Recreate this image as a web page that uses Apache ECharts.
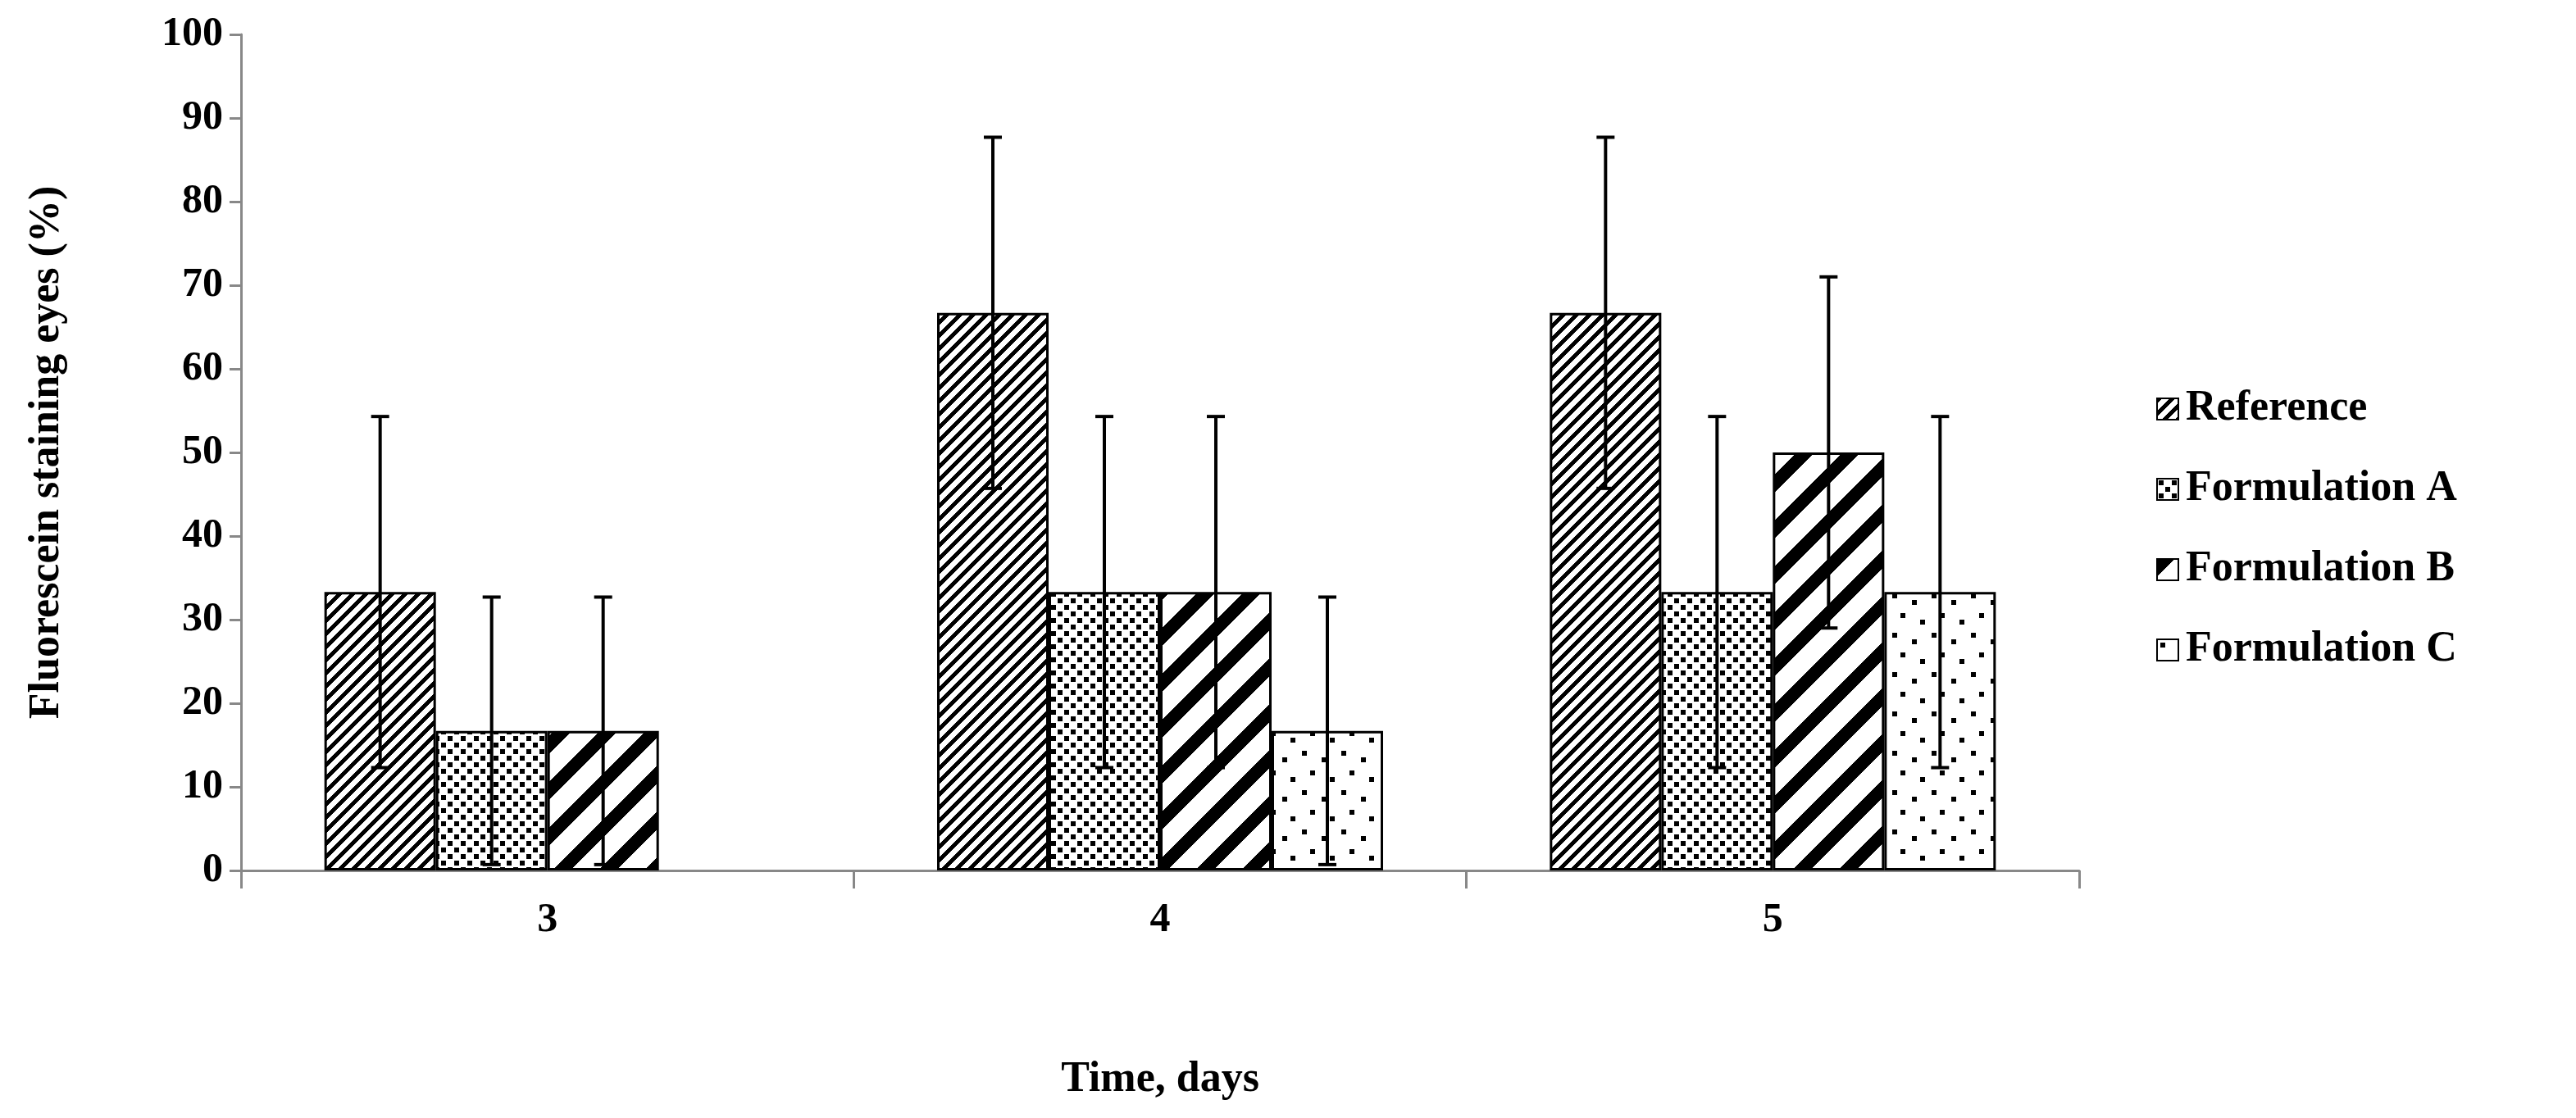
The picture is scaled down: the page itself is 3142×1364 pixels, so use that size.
<!DOCTYPE html>
<html><head><meta charset="utf-8">
<script src="https://cdn.jsdelivr.net/npm/echarts@6/dist/echarts.min.js"></script>
<style>html,body{margin:0;padding:0;background:#fff}#c{width:3142px;height:1364px}</style>
</head><body><div id="c"></div>
<script>
const categories = ['3','4','5'];
const seriesNames = ['Reference','Formulation A','Formulation B','Formulation C'];
const refVals = [33.3, 66.7, 66.7];
const aVals = [16.7, 33.3, 33.3];
const bVals = [16.7, 33.3, 50.0];
const cVals = [null, 16.7, 33.3];
const refErr = [21, 21, 21];
const aErr = [16, 21, 21];
const bErr = [16, 21, 21];
const cErr = [null, 16, 21];

function mk(w,h,draw){const c=document.createElement('canvas');c.width=w;c.height=h;const x=c.getContext('2d');x.fillStyle='#fff';x.fillRect(0,0,w,h);x.fillStyle='#000';draw(x,w,h);return c;}
function stripes(period,thick){return mk(period,period,(x,w,h)=>{for(let i=0;i<w;i++){for(let k=-1;k<=1;k++){const y=(h-1-i)+k*h;x.fillRect(i,y,1,thick);}}});}
const patRef = stripes(16,7);
const patB = stripes(56,22);
const patA = mk(16,16,(x)=>{x.fillRect(2,2,6,6);x.fillRect(10,10,6,6);});
const patC = mk(48,48,(x)=>{x.fillRect(4,4,6,6);x.fillRect(28,12,6,6);x.fillRect(14,28,6,6);x.fillRect(38,36,6,6);});
const pats=[patRef,patA,patB,patC];
const vals=[refVals,aVals,bVals,cVals];
const errs=[refErr,aErr,bErr,cErr];
const BW=136;
const font='Liberation Serif';
const series=[];
vals.forEach((v,i)=>{
  series.push({name:seriesNames[i],type:'bar',data:v,barWidth:BW,barGap:'0%',
    itemStyle:{color:{image:pats[i],repeat:'repeat'},borderColor:'#000',borderWidth:3}});
});
vals.forEach((v,i)=>{
  series.push({type:'custom',silent:true,z:10,
    data:v.map((val,j)=>val==null?null:[j,val,errs[i][j]]).filter(d=>d),
    renderItem:(p,api)=>{
      const c=api.value(0),m=api.value(1),e=api.value(2);
      const top=api.coord([c,m+e]),bot=api.coord([c,m-e]);
      const x=top[0]+(i-1.5)*BW;
      const s={stroke:'#000',lineWidth:4};
      return {type:'group',children:[
        {type:'line',shape:{x1:x,y1:top[1],x2:x,y2:bot[1]},style:s},
        {type:'line',shape:{x1:x-11,y1:top[1],x2:x+11,y2:top[1]},style:s},
        {type:'line',shape:{x1:x-11,y1:bot[1],x2:x+11,y2:bot[1]},style:s}]};
    }});
});
const chart=echarts.init(document.getElementById('c'));
chart.setOption({
  animation:false,
  grid:{left:294,right:3142-2536,top:42,bottom:1364-1062,containLabel:false},
  legend:{orient:'vertical',left:2625,top:468,itemWidth:26,itemHeight:26,itemGap:46,icon:'rect',
    data:seriesNames,textStyle:{fontFamily:font,fontWeight:'bold',fontSize:52,color:'#000',padding:[0,0,0,4]},
    itemStyle:{borderColor:'#000',borderWidth:2}},
  xAxis:{type:'category',data:categories,
    axisLine:{lineStyle:{color:'#888',width:3}},
    axisTick:{show:true,length:22,lineStyle:{color:'#888',width:3}},
    axisLabel:{fontFamily:font,fontWeight:'bold',fontSize:50,color:'#000',margin:36},
    name:'Time, days',nameLocation:'middle',nameGap:230,
    nameTextStyle:{fontFamily:font,fontWeight:'bold',fontSize:52,color:'#000'}},
  yAxis:{type:'value',min:0,max:100,interval:10,splitLine:{show:false},
    axisLine:{show:true,lineStyle:{color:'#888',width:3}},
    axisTick:{show:true,length:14,lineStyle:{color:'#888',width:3}},
    axisLabel:{fontFamily:font,fontWeight:'bold',fontSize:50,color:'#000',margin:22},
    name:'Fluorescein staining eyes (%)',nameLocation:'middle',nameGap:210,
    nameTextStyle:{fontFamily:font,fontWeight:'bold',fontSize:52,color:'#000'}},
  series:series
});
</script></body></html>
